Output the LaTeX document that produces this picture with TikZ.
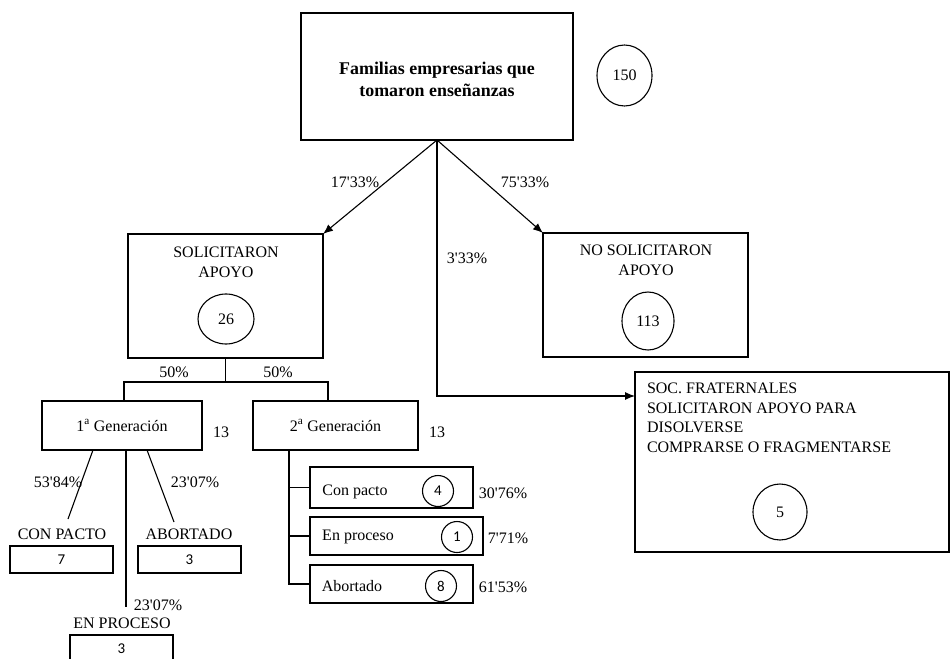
\documentclass[tikz,border=0pt]{standalone}
\usepackage{fontspec}
\setmainfont{Liberation Serif}[Ligatures=TeXOff]
\newfontfamily\sansdig{Carlito}
\usetikzlibrary{arrows.meta,shapes.geometric}
\newcommand\myfnt{\fontsize{16}{19.5}\selectfont}
\begin{document}
\begin{tikzpicture}[x=1pt,y=-1pt,
  every node/.style={font=\myfnt, inner sep=0pt, outer sep=0pt},
  box/.style={draw, line width=1.1pt, rectangle, minimum width=#1},
  num/.style={draw, line width=1.1pt, ellipse},
  smallnum/.style={draw, line width=1.1pt, circle, minimum size=31pt, font=\sansdig\fontsize{15}{18}\selectfont},
  digbox/.style={draw, line width=1.1pt, rectangle, minimum width=103pt, minimum height=27pt, font=\sansdig\fontsize{15}{18}\selectfont},
  conn/.style={line width=1.1pt},
  arr/.style={line width=1.1pt, -{Latex[length=10pt,width=8pt]}}
]
\useasboundingbox (0,0) rectangle (952,658);

% main boxes
\node[box=272pt, minimum height=127pt] (top) at (437,76.5) {};
\node[font=\fontsize{17.9}{22}\selectfont\bfseries, align=center] (title) at (437,79) {Familias empresarias que\\tomaron enseñanzas};
\node[num, minimum width=55pt, minimum height=61pt] (c150) at (624.5,75.5) {150};

\node[box=195pt, minimum height=124pt] (sol) at (225.5,296) {};
\node[align=center] (soltxt) at (226,262.5) {SOLICITARON\\APOYO};
\node[num, minimum width=56pt, minimum height=50pt] (c26) at (226,319) {26};

\node[box=205pt, minimum height=124pt] (nosol) at (645.5,295) {};
\node[align=center] (nosoltxt) at (646,260.5) {NO SOLICITARON\\APOYO};
\node[num, minimum width=52pt, minimum height=58pt] (c113) at (648,321) {113};

\node[box=314pt, minimum height=180pt] (soc) at (792,462) {};
\node[align=left, anchor=west] (soctxt) at (647,418) {SOC. FRATERNALES\\SOLICITARON APOYO PARA\\DISOLVERSE\\COMPRARSE O FRAGMENTARSE};
\node[num, minimum width=54pt, minimum height=56pt] (c5) at (780,512) {5};

% top connectors
\coordinate (socin) at (635,396);
\draw[arr] (top.south) -- (sol.north east);
\draw[arr] (top.south) -- (nosol.north west);
\draw[arr] (top.south) |- (socin);
\node (p1733) at (355,182) {17'33\%};
\node (p7533) at (525,182) {75'33\%};
\node (p333) at (467,258) {3'33\%};

% generations
\node[box=160pt, minimum height=49pt] (gen1) at (122,425.5) {1\textsuperscript{a} Generación};
\node[box=165pt, minimum height=49pt] (gen2) at (335.5,425.5) {2\textsuperscript{a} Generación};
\node (n13a) at (221,432) {13};
\node (n13b) at (437,432) {13};

\coordinate (hL) at (124,382);
\coordinate (hR) at (328,382);
\draw[conn] (sol.south) -- (sol.south |- hL);
\draw[conn] (gen1.north -| hL) -- (hL) -- (hR) -- (gen2.north -| hR);
\node (p50a) at (174,372) {50\%};
\node (p50b) at (278,372) {50\%};

% first generation branches
\coordinate (cpL) at (68,519);
\coordinate (abL) at (174,522);
\coordinate (epL) at (126,607);
\draw[conn] ([xshift=-29pt]gen1.south) -- (cpL);
\draw[conn] ([xshift=4pt]gen1.south) -- (epL);
\draw[conn] ([xshift=25pt]gen1.south) -- (abL);
\node (p5384) at (58,482) {53'84\%};
\node (p2307a) at (195,482) {23'07\%};
\node (p2307b) at (158,605) {23'07\%};

\node (lcp) at (62,534) {CON PACTO};
\node (lab) at (189,534) {ABORTADO};
\node (lep) at (122,623) {EN PROCESO};
\node[digbox] (b7) at (61.5,559.5) {7};
\node[digbox] (b3a) at (189.5,559.5) {3};
\node[digbox, minimum height=28pt] (b3p) at (121.5,649) {3};

% second generation branches
\node[box=163pt, minimum height=41pt] (cp) at (391.5,487.5) {};
\node[box=173pt, minimum height=38pt] (ep) at (396.5,536) {};
\node[box=163pt, minimum height=38pt] (ab) at (391.5,584) {};
\coordinate (g2x) at (289,0);
\draw[conn] (gen2.south -| g2x) -- (ab.west -| g2x) -- (ab.west);
\draw[conn] (cp.west -| g2x) -- (cp.west);
\draw[conn] (ep.west -| g2x) -- (ep.west);

\node (tcp) at (355,492) {Con pacto};
\node (tep) at (358,537) {En proceso};
\node (tab) at (352,586) {Abortado};
\node[smallnum] (c4) at (438,491) {4};
\node[smallnum] (c1) at (457,537) {1};
\node[smallnum] (c8) at (441,586) {8};
\node (p3076) at (503,493) {30'76\%};
\node (p771) at (508,538) {7'71\%};
\node (p6153) at (503,587) {61'53\%};
\end{tikzpicture}
\end{document}
